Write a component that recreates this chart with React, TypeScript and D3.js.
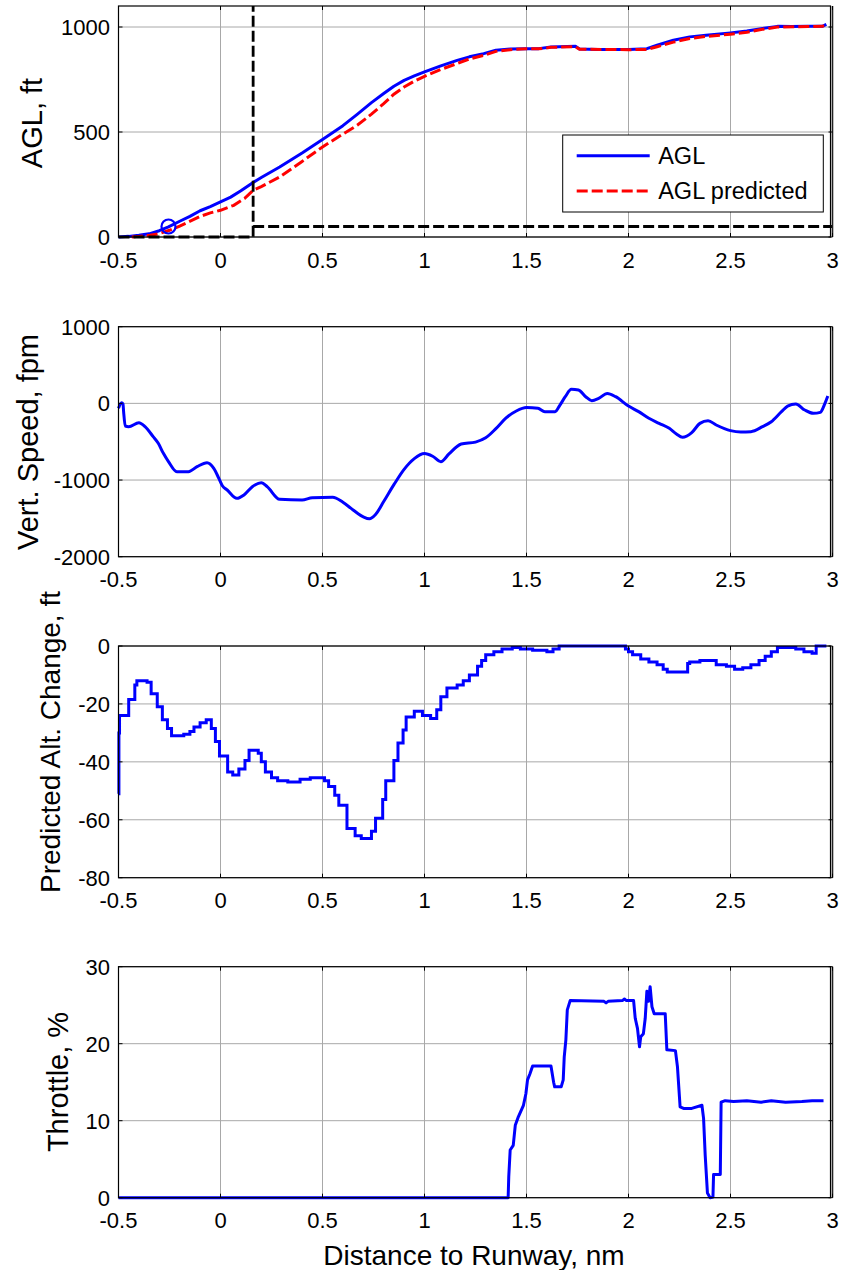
import React from "react";
import * as d3 from "d3";

type P = [number, number];

const xTicks = [-0.5, 0, 0.5, 1, 1.5, 2, 2.5, 3];

const aglSeries: P[] = [[-0.5,0],[-0.45,3],[-0.4,8],[-0.35,15],[-0.3,30],[-0.255,48],[-0.2,75],[-0.15,98],[-0.1,125],[-0.05,145],[0,167],[0.05,190],[0.1,220],[0.16,260],[0.2,283],[0.29,333],[0.4,400],[0.5,464],[0.6,530],[0.67,584],[0.74,640],[0.8,683],[0.85,718],[0.9,746],[0.95,767],[1.0,786],[1.08,815],[1.16,841],[1.22,858],[1.29,873],[1.35,889],[1.42,895],[1.5,897],[1.56,897],[1.62,905],[1.7,907],[1.74,908],[1.76,895],[1.85,893],[1.95,893],[2.0,893],[2.09,897],[2.14,913],[2.22,937],[2.3,953],[2.38,961],[2.5,972],[2.58,981],[2.65,992],[2.73,1003],[2.8,1002],[2.88,1003],[2.95,1003],[2.97,1012]];

const aglPredSeries: P[] = [[-0.435,0],[-0.4,3],[-0.345,8],[-0.3,16],[-0.25,32],[-0.2,52],[-0.165,68],[-0.1,98],[-0.05,115],[0,127],[0.065,151],[0.12,185],[0.16,222],[0.2,240],[0.29,286],[0.4,360],[0.5,429],[0.6,490],[0.67,532],[0.74,585],[0.8,635],[0.85,680],[0.9,714],[0.95,742],[1.0,765],[1.08,798],[1.16,826],[1.22,848],[1.29,865],[1.35,884],[1.42,892],[1.5,897],[1.56,896],[1.62,903],[1.74,906],[1.76,894],[2.0,892],[2.09,893],[2.14,906],[2.22,928],[2.3,945],[2.38,955],[2.5,966],[2.58,975],[2.65,988],[2.73,1000],[2.88,1002],[2.95,1003],[2.97,1010]];

const gateBox: P[] = [[-0.5,0],[0.16,0],[0.16,1100]];
const gateFloor: P[] = [[0.16,50],[3,50]];
const markerPoint: P = [-0.255, 50];

const vsSeries: P[] = [[-0.5,-65],[-0.485,9],[-0.478,-8],[-0.475,-108],[-0.467,-295],[-0.45,-304],[-0.4,-252],[-0.37,-304],[-0.33,-434],[-0.305,-521],[-0.28,-652],[-0.255,-760],[-0.214,-891],[-0.157,-891],[-0.115,-826],[-0.066,-774],[-0.033,-848],[-0.008,-978],[0.01,-1078],[0.033,-1130],[0.08,-1239],[0.115,-1195],[0.156,-1087],[0.2,-1034],[0.23,-1090],[0.29,-1252],[0.4,-1260],[0.45,-1230],[0.55,-1225],[0.6,-1290],[0.65,-1390],[0.7,-1480],[0.73,-1505],[0.76,-1450],[0.8,-1280],[0.85,-1060],[0.9,-860],[0.95,-720],[1.0,-655],[1.04,-690],[1.08,-760],[1.12,-660],[1.18,-530],[1.25,-505],[1.3,-450],[1.35,-330],[1.4,-190],[1.45,-100],[1.5,-55],[1.556,-65],[1.59,-108],[1.64,-108],[1.664,-22],[1.69,87],[1.72,183],[1.755,174],[1.79,87],[1.82,35],[1.854,65],[1.896,130],[1.937,87],[2.0,-35],[2.05,-108],[2.1,-195],[2.15,-261],[2.2,-326],[2.235,-400],[2.265,-443],[2.31,-382],[2.35,-261],[2.39,-226],[2.43,-282],[2.5,-356],[2.55,-374],[2.6,-369],[2.657,-304],[2.7,-239],[2.75,-108],[2.78,-35],[2.82,-8],[2.864,-87],[2.906,-130],[2.94,-117],[2.963,0],[2.977,96]];

const altChangeSeries: P[] = [[-0.5,-51],[-0.498,-30],[-0.495,-24],[-0.45,-18.5],[-0.42,-13.5],[-0.41,-12],[-0.36,-12.5],[-0.34,-16.5],[-0.31,-21],[-0.285,-25.5],[-0.26,-28.5],[-0.24,-31],[-0.18,-30.5],[-0.15,-29.5],[-0.13,-28],[-0.1,-26.5],[-0.07,-25.5],[-0.045,-28.5],[-0.025,-33],[-0.005,-38],[0.035,-43.5],[0.06,-44.5],[0.09,-42.5],[0.12,-39.5],[0.14,-36],[0.185,-37],[0.2,-40],[0.22,-43.5],[0.25,-45.5],[0.28,-46.5],[0.33,-47],[0.39,-46],[0.44,-45.5],[0.51,-46.5],[0.53,-48.5],[0.56,-51.5],[0.58,-55],[0.62,-63],[0.66,-65.5],[0.69,-66.5],[0.74,-64],[0.76,-59.5],[0.795,-53],[0.81,-46.5],[0.85,-39.5],[0.87,-33.5],[0.895,-29],[0.91,-24.5],[0.95,-22.5],[0.99,-24],[1.03,-25],[1.06,-22],[1.08,-17.5],[1.11,-14.5],[1.16,-13.5],[1.19,-12],[1.22,-10],[1.26,-7],[1.28,-5],[1.3,-3],[1.34,-2],[1.38,-1],[1.43,-0.5],[1.47,-1],[1.53,-1.5],[1.6,-2],[1.63,-1],[1.66,0],[1.96,0],[1.985,-1],[2.0,-2],[2.02,-3],[2.06,-4.5],[2.1,-5.5],[2.14,-6.5],[2.17,-8],[2.19,-9],[2.29,-6],[2.3,-5.5],[2.35,-5],[2.4,-5],[2.43,-6.5],[2.48,-7],[2.52,-8],[2.56,-7.5],[2.6,-6.5],[2.64,-5],[2.67,-3.5],[2.7,-2],[2.73,-0.5],[2.79,-0.5],[2.82,-1],[2.86,-2],[2.9,-2.5],[2.92,0],[2.97,0]];

const throttleSeries: P[] = [[-0.5,0],[1.41,0],[1.413,2.7],[1.42,6.2],[1.435,6.8],[1.445,9.4],[1.46,10.5],[1.485,12],[1.497,13.5],[1.505,15.3],[1.517,16.1],[1.53,17.1],[1.62,17.1],[1.633,15],[1.638,14.4],[1.67,14.4],[1.68,15.3],[1.685,18.3],[1.693,20.5],[1.7,24.4],[1.714,25.6],[1.88,25.5],[1.89,25.3],[1.9,25.5],[1.97,25.6],[1.98,25.8],[1.99,25.6],[2.025,25.6],[2.033,23.3],[2.044,22],[2.054,19.6],[2.06,20.9],[2.073,21.3],[2.082,23.3],[2.09,26.8],[2.098,25.5],[2.106,27.4],[2.115,24.8],[2.126,23.9],[2.18,23.9],[2.188,19.2],[2.23,19.1],[2.24,17],[2.253,11.8],[2.27,11.6],[2.31,11.6],[2.36,12],[2.368,10.3],[2.376,5.5],[2.387,0.6],[2.4,0],[2.414,0.1],[2.417,3],[2.45,3],[2.454,12.4],[2.474,12.6],[2.515,12.5],[2.58,12.6],[2.65,12.4],[2.7,12.6],[2.77,12.4],[2.85,12.5],[2.9,12.6],[2.956,12.6]];

const yTicks1 = [0, 500, 1000];
const yTicks2 = [-2000, -1000, 0, 1000];
const yTicks3 = [-80, -60, -40, -20, 0];
const yTicks4 = [0, 10, 20, 30];

const legendLabels = ["AGL", "AGL predicted"];

const FONT = "'Liberation Sans', Arial, Helvetica, sans-serif";
const BLUE = "#0000ff";
const RED = "#ff0000";
const GRID = "#a8a8a8";
const TICK_FS = 22;
const LABEL_FS = 28;
const LW = 3;

const LEFT = 118.5;
const RIGHT = 830.5;
const xScale = d3.scaleLinear().domain([-0.5, 3]).range([118.5, 832.5]);

interface PanelDef {
  top: number;
  bottom: number;
  domain: [number, number];
  ticks: number[];
  label: string;
  labelX: number;
  labelY: number;
  labelFs: number;
}

const panels: PanelDef[] = [
  { top: 6, bottom: 237, domain: [0, 1100], ticks: yTicks1, label: "AGL, ft", labelX: 42, labelY: 123, labelFs: 29 },
  { top: 326.7, bottom: 556.7, domain: [-2000, 1000], ticks: yTicks2, label: "Vert. Speed, fpm", labelX: 38, labelY: 442, labelFs: 29 },
  { top: 646, bottom: 877.7, domain: [-80, 0], ticks: yTicks3, label: "Predicted Alt. Change, ft", labelX: 60, labelY: 742, labelFs: 28 },
  { top: 966.7, bottom: 1197.7, domain: [0, 30], ticks: yTicks4, label: "Throttle, %", labelX: 68, labelY: 1082, labelFs: 29 },
];

function fmt(v: number) {
  return String(v);
}

function Frame({ p, children }: { p: PanelDef; children?: React.ReactNode }) {
  const y = d3.scaleLinear().domain(p.domain).range([p.bottom, p.top]);
  const tl = 4;
  return (
    <g>
      <rect x={LEFT} y={p.top} width={RIGHT - LEFT} height={p.bottom - p.top} fill="#fff" />
      {xTicks.map((t) => {
        const X = Math.min(xScale(t), RIGHT);
        return <line key={"gx" + t} x1={X} x2={X} y1={p.top} y2={p.bottom} stroke={GRID} strokeWidth={1} />;
      })}
      {p.ticks.map((t) => (
        <line key={"gy" + t} x1={LEFT} x2={RIGHT} y1={y(t)} y2={y(t)} stroke={GRID} strokeWidth={1} />
      ))}
      <g>{children}</g>
      <rect x={LEFT} y={p.top} width={RIGHT - LEFT} height={p.bottom - p.top} fill="none" stroke="#000" strokeWidth={1.2} />
      <line x1={832.5} x2={832.5} y1={p.top} y2={p.bottom} stroke="#222" strokeWidth={1.6} />
      {xTicks.map((t) => {
        const X = Math.min(xScale(t), 832.5);
        return (
          <g key={"tx" + t}>
            <line x1={X} x2={X} y1={p.bottom} y2={p.bottom - tl} stroke="#000" strokeWidth={1} />
            <line x1={X} x2={X} y1={p.top} y2={p.top + tl} stroke="#000" strokeWidth={1} />
            <text x={xScale(t)} y={p.bottom + 30.5} fontSize={TICK_FS} fontFamily={FONT} textAnchor="middle" fill="#000">
              {fmt(t)}
            </text>
          </g>
        );
      })}
      {p.ticks.map((t) => (
        <g key={"ty" + t}>
          <line x1={LEFT} x2={LEFT + tl} y1={y(t)} y2={y(t)} stroke="#000" strokeWidth={1} />
          <line x1={832.5} x2={832.5 - tl} y1={y(t)} y2={y(t)} stroke="#000" strokeWidth={1} />
          <text x={110} y={y(t) + 8} fontSize={TICK_FS} fontFamily={FONT} textAnchor="end" fill="#000">
            {fmt(t)}
          </text>
        </g>
      ))}
      <text
        transform={`translate(${p.labelX},${p.labelY}) rotate(-90)`}
        fontSize={p.labelFs}
        fontFamily={FONT}
        textAnchor="middle"
        fill="#000"
      >
        {p.label}
      </text>
    </g>
  );
}

function linePath(p: PanelDef, data: P[], curve: d3.CurveFactory = d3.curveLinear) {
  const y = d3.scaleLinear().domain(p.domain).range([p.bottom, p.top]);
  return (
    d3
      .line<P>()
      .x((d) => xScale(d[0]))
      .y((d) => y(d[1]))
      .curve(curve)(data) || ""
  );
}

export default function App() {
  const p1 = panels[0];
  const y1 = d3.scaleLinear().domain(p1.domain).range([p1.bottom, p1.top]);
  const lgX = 562.7;
  const lgY = 135;
  const lgW = 260.6;
  const lgH = 77;
  return (
    <svg
      width={842}
      height={1270}
      viewBox="0 0 842 1270"
      style={{ position: "absolute", left: 0, top: 0, background: "#fff" }}
    >
      <rect x={0} y={0} width={842} height={1270} fill="#fff" />
      <Frame p={panels[0]}>
        <path d={linePath(p1, aglSeries)} fill="none" stroke={BLUE} strokeWidth={LW} strokeLinejoin="round" />
        <path d={linePath(p1, aglPredSeries)} fill="none" stroke={RED} strokeWidth={LW} strokeDasharray="11,4" />
        <path d={linePath(p1, gateBox)} fill="none" stroke="#000" strokeWidth={2.8} strokeDasharray="11,4" />
        <path d={linePath(p1, gateFloor)} fill="none" stroke="#000" strokeWidth={2.8} strokeDasharray="11,4" />
        <circle cx={xScale(markerPoint[0])} cy={y1(markerPoint[1])} r={7} fill="none" stroke={BLUE} strokeWidth={2.2} />
        <rect x={lgX} y={lgY} width={lgW} height={lgH} fill="#fff" stroke="#000" strokeWidth={1} />
        <line x1={lgX + 14} x2={lgX + 87} y1={lgY + 20.7} y2={lgY + 20.7} stroke={BLUE} strokeWidth={LW} />
        <line x1={lgX + 14} x2={lgX + 87} y1={lgY + 56} y2={lgY + 56} stroke={RED} strokeWidth={LW} strokeDasharray="11,4" />
        <text x={lgX + 95.5} y={lgY + 29} fontSize={23.5} fontFamily={FONT} fill="#000">
          {legendLabels[0]}
        </text>
        <text x={lgX + 95.5} y={lgY + 64} fontSize={23.5} fontFamily={FONT} fill="#000">
          {legendLabels[1]}
        </text>
      </Frame>
      <Frame p={panels[1]}>
        <path d={linePath(panels[1], vsSeries, d3.curveMonotoneX)} fill="none" stroke={BLUE} strokeWidth={LW} strokeLinejoin="round" />
      </Frame>
      <Frame p={panels[2]}>
        <path d={linePath(panels[2], altChangeSeries, d3.curveStepAfter)} fill="none" stroke={BLUE} strokeWidth={LW} />
      </Frame>
      <Frame p={panels[3]}>
        <path d={linePath(panels[3], throttleSeries)} fill="none" stroke={BLUE} strokeWidth={LW} strokeLinejoin="round" />
      </Frame>
      <text x={474} y={1265} fontSize={LABEL_FS} fontFamily={FONT} textAnchor="middle" fill="#000">
        Distance to Runway, nm
      </text>
    </svg>
  );
}
